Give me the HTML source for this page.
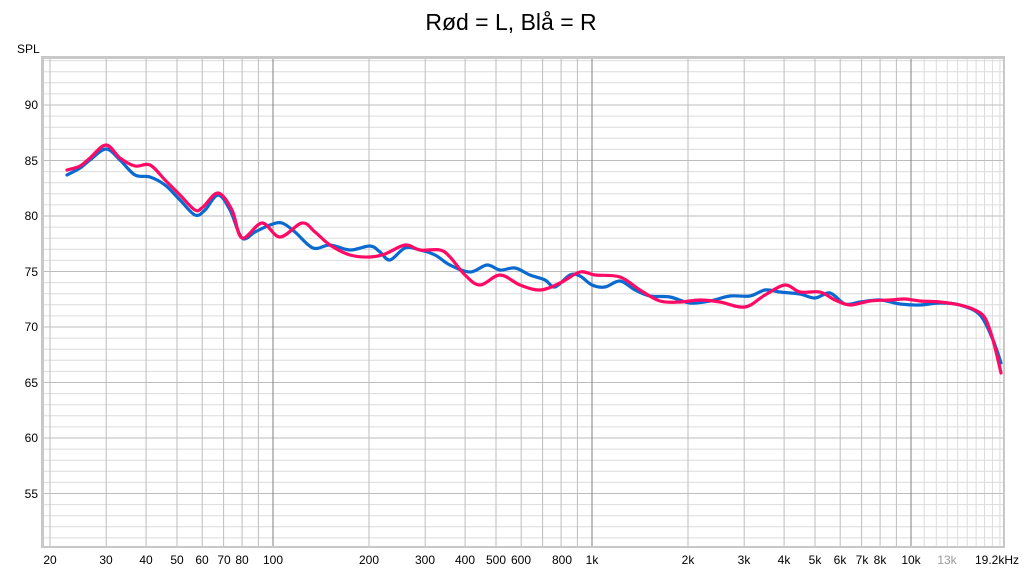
<!DOCTYPE html>
<html><head><meta charset="utf-8"><style>
html,body{margin:0;padding:0;background:#fff;width:1024px;height:570px;overflow:hidden}
svg{display:block;font-family:"Liberation Sans",sans-serif}
</style></head><body>
<svg width="1024" height="570" viewBox="0 0 1024 570" xmlns="http://www.w3.org/2000/svg">
<text x="511" y="30" font-size="23" text-anchor="middle" fill="#000">Rød = L, Blå = R</text>
<text x="17" y="53" font-size="12" fill="#000">SPL</text>
<rect x="41" y="56" width="964" height="492" fill="#c8c8c8"/>
<rect x="44" y="59" width="959" height="487" fill="#fff"/>
<g stroke="#dcdcdc" stroke-width="1">
<line x1="44" x2="1003" y1="60.6" y2="60.6"/><line x1="44" x2="1003" y1="71.7" y2="71.7"/><line x1="44" x2="1003" y1="82.8" y2="82.8"/><line x1="44" x2="1003" y1="93.9" y2="93.9"/>
<line x1="44" x2="1003" y1="116.1" y2="116.1"/><line x1="44" x2="1003" y1="127.2" y2="127.2"/><line x1="44" x2="1003" y1="138.3" y2="138.3"/><line x1="44" x2="1003" y1="149.4" y2="149.4"/>
<line x1="44" x2="1003" y1="171.6" y2="171.6"/><line x1="44" x2="1003" y1="182.7" y2="182.7"/><line x1="44" x2="1003" y1="193.8" y2="193.8"/><line x1="44" x2="1003" y1="204.9" y2="204.9"/>
<line x1="44" x2="1003" y1="227.1" y2="227.1"/><line x1="44" x2="1003" y1="238.2" y2="238.2"/><line x1="44" x2="1003" y1="249.3" y2="249.3"/><line x1="44" x2="1003" y1="260.4" y2="260.4"/>
<line x1="44" x2="1003" y1="282.6" y2="282.6"/><line x1="44" x2="1003" y1="293.7" y2="293.7"/><line x1="44" x2="1003" y1="304.8" y2="304.8"/><line x1="44" x2="1003" y1="315.9" y2="315.9"/>
<line x1="44" x2="1003" y1="338.1" y2="338.1"/><line x1="44" x2="1003" y1="349.2" y2="349.2"/><line x1="44" x2="1003" y1="360.3" y2="360.3"/><line x1="44" x2="1003" y1="371.4" y2="371.4"/>
<line x1="44" x2="1003" y1="393.6" y2="393.6"/><line x1="44" x2="1003" y1="404.7" y2="404.7"/><line x1="44" x2="1003" y1="415.8" y2="415.8"/><line x1="44" x2="1003" y1="426.9" y2="426.9"/>
<line x1="44" x2="1003" y1="449.1" y2="449.1"/><line x1="44" x2="1003" y1="460.2" y2="460.2"/><line x1="44" x2="1003" y1="471.3" y2="471.3"/><line x1="44" x2="1003" y1="482.4" y2="482.4"/>
<line x1="44" x2="1003" y1="504.6" y2="504.6"/><line x1="44" x2="1003" y1="515.7" y2="515.7"/><line x1="44" x2="1003" y1="526.8" y2="526.8"/><line x1="44" x2="1003" y1="537.9" y2="537.9"/>
<line y1="59" y2="546" x1="924.2" x2="924.2"/><line y1="59" y2="546" x1="936.3" x2="936.3"/><line y1="59" y2="546" x1="947.3" x2="947.3"/><line y1="59" y2="546" x1="957.6" x2="957.6"/><line y1="59" y2="546" x1="967.2" x2="967.2"/><line y1="59" y2="546" x1="976.1" x2="976.1"/><line y1="59" y2="546" x1="984.5" x2="984.5"/><line y1="59" y2="546" x1="992.4" x2="992.4"/><line y1="59" y2="546" x1="999.9" x2="999.9"/>
</g>
<g stroke="#bdbdbd" stroke-width="1">
<line x1="44" x2="1003" y1="105" y2="105"/><line x1="44" x2="1003" y1="160.5" y2="160.5"/><line x1="44" x2="1003" y1="216" y2="216"/><line x1="44" x2="1003" y1="271.5" y2="271.5"/><line x1="44" x2="1003" y1="327" y2="327"/><line x1="44" x2="1003" y1="382.5" y2="382.5"/><line x1="44" x2="1003" y1="438" y2="438"/><line x1="44" x2="1003" y1="493.5" y2="493.5"/>
<line y1="59" y2="546" x1="50" x2="50"/><line y1="59" y2="546" x1="106.2" x2="106.2"/><line y1="59" y2="546" x1="146.1" x2="146.1"/><line y1="59" y2="546" x1="177" x2="177"/><line y1="59" y2="546" x1="202.2" x2="202.2"/><line y1="59" y2="546" x1="223.6" x2="223.6"/><line y1="59" y2="546" x1="242.1" x2="242.1"/><line y1="59" y2="546" x1="258.4" x2="258.4"/>
<line y1="59" y2="546" x1="369" x2="369"/><line y1="59" y2="546" x1="425.2" x2="425.2"/><line y1="59" y2="546" x1="465.1" x2="465.1"/><line y1="59" y2="546" x1="496" x2="496"/><line y1="59" y2="546" x1="521.2" x2="521.2"/><line y1="59" y2="546" x1="542.6" x2="542.6"/><line y1="59" y2="546" x1="561.1" x2="561.1"/><line y1="59" y2="546" x1="577.4" x2="577.4"/>
<line y1="59" y2="546" x1="688" x2="688"/><line y1="59" y2="546" x1="744.2" x2="744.2"/><line y1="59" y2="546" x1="784.1" x2="784.1"/><line y1="59" y2="546" x1="815" x2="815"/><line y1="59" y2="546" x1="840.2" x2="840.2"/><line y1="59" y2="546" x1="861.6" x2="861.6"/><line y1="59" y2="546" x1="880.1" x2="880.1"/><line y1="59" y2="546" x1="896.4" x2="896.4"/>
</g>
<g stroke="#808080" stroke-width="1">
<line y1="59" y2="546" x1="273" x2="273"/><line y1="59" y2="546" x1="592" x2="592"/><line y1="59" y2="546" x1="911" x2="911"/>
</g>
<g fill="none" stroke-width="3.2" stroke-linejoin="round" stroke-linecap="round">
<polyline class="c" stroke="#0a6ad0" points="67,175 80,168 90,160 106,149 120,160 135,175 150,177 165,185 180,200 195,215 205,210 218,195 230,210 242,238 255,232 270,225 282,223 295,232 313,248 330,245 350,250 370,246 380,252 390,260 405,248 420,250 435,255 450,265 470,272 487,265 500,270 515,268 530,275 545,280 555,287 570,275 580,276 592,285 605,287 620,281 635,290 650,296 670,297 690,303 710,301 730,296 750,296 765,290 780,292 800,294 815,298 830,293 845,304 860,302 880,300 900,304 920,305 940,303 960,305 980,315 993,340 1001,363"/>
<polyline class="c" stroke="#ff0a64" points="67,170 80,166 90,158 106,145 120,158 135,166 150,165 165,180 180,195 195,210 203,207 218,193 232,210 242,238 262,223 280,237 302,223 315,232 330,245 350,255 370,257 385,254 405,245 420,250 440,250 450,257 465,275 480,285 500,275 520,285 540,290 560,283 580,272 595,275 620,277 640,290 660,301 680,302 700,300 720,302 745,307 765,295 785,285 800,292 820,292 835,300 850,305 870,301 890,300 905,299 920,301 940,302 960,305 975,310 985,318 993,340 1001,373"/>
</g>
<g font-size="12" fill="#000" text-anchor="end">
<text x="38" y="109">90</text><text x="38" y="165">85</text><text x="38" y="220">80</text><text x="38" y="276">75</text><text x="38" y="331">70</text><text x="38" y="387">65</text><text x="38" y="442">60</text><text x="38" y="498">55</text>
</g>
<g font-size="12" fill="#000" text-anchor="middle">
<text x="50" y="564">20</text><text x="106" y="564">30</text><text x="146" y="564">40</text><text x="177" y="564">50</text><text x="202" y="564">60</text><text x="224" y="564">70</text><text x="242" y="564">80</text><text x="273" y="564">100</text>
<text x="369" y="564">200</text><text x="425" y="564">300</text><text x="465" y="564">400</text><text x="496" y="564">500</text><text x="521" y="564">600</text><text x="562" y="564">800</text><text x="592" y="564">1k</text>
<text x="688" y="564">2k</text><text x="744" y="564">3k</text><text x="784" y="564">4k</text><text x="815" y="564">5k</text><text x="840" y="564">6k</text><text x="862" y="564">7k</text><text x="880" y="564">8k</text><text x="911" y="564">10k</text>
<text x="947" y="564" fill="#999">13k</text><text x="997" y="564">19.2kHz</text>
</g>
</svg>
<script>
document.querySelectorAll('polyline.c').forEach(function(pl){
  var p=pl.getAttribute('points').trim().split(/\s+/).map(function(s){return s.split(',').map(Number);});
  var d='M'+p[0][0]+','+p[0][1];
  for(var i=0;i<p.length-1;i++){
    var p0=p[i-1]||p[i],p1=p[i],p2=p[i+1],p3=p[i+2]||p2;
    var c1x=p1[0]+(p2[0]-p0[0])/6,c1y=p1[1]+(p2[1]-p0[1])/6;
    var c2x=p2[0]-(p3[0]-p1[0])/6,c2y=p2[1]-(p3[1]-p1[1])/6;
    d+=' C'+c1x.toFixed(1)+','+c1y.toFixed(1)+' '+c2x.toFixed(1)+','+c2y.toFixed(1)+' '+p2[0]+','+p2[1];
  }
  var path=document.createElementNS('http://www.w3.org/2000/svg','path');
  path.setAttribute('d',d);path.setAttribute('stroke',pl.getAttribute('stroke'));
  pl.parentNode.replaceChild(path,pl);
});
</script>
</body></html>
